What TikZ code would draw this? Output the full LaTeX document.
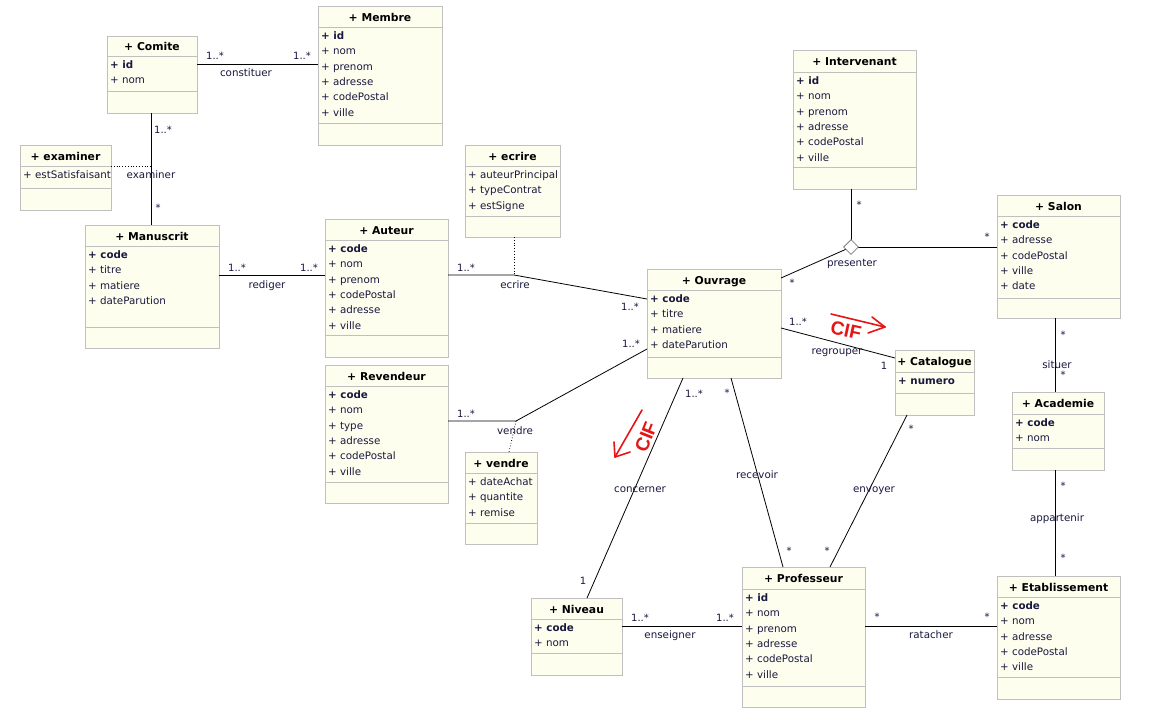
\documentclass[tikz,border=0pt]{standalone}
\usepackage{fontspec}
\setmainfont{DejaVu Sans}
\newfontfamily\ciffont{Liberation Sans}
\usetikzlibrary{shapes.geometric}

\definecolor{boxfill}{RGB}{254,254,238}
\definecolor{boxedge}{RGB}{192,192,192}
\definecolor{inktext}{RGB}{24,24,64}
\definecolor{cifred}{RGB}{232,20,20}

\newif\ifkeyfirst
\keyfirsttrue

\tikzset{
  classbox/.style={draw=boxedge, fill=boxfill, line width=0.9pt, anchor=north west,
    inner sep=0pt, outer sep=0pt},
  sepline/.style={draw=boxedge, line width=0.9pt},
  titletext/.style={font=\fontsize{10.8}{12}\selectfont\bfseries, text=black, inner sep=0pt,
    anchor=base},
  attrtext/.style={font=\fontsize{10.3}{12}\selectfont, text=inktext, anchor=base west, inner sep=0pt},
  assoc/.style={draw=black, line width=0.8pt},
  linkdots/.style={draw=black, line width=0.8pt, dotted},
  mult/.style={font=\fontsize{10}{12}\selectfont, text=inktext, inner sep=0pt,
    text height=8pt, text depth=0.5pt},
  multdot/.style={font=\fontsize{10}{12}\selectfont, text=inktext, inner sep=0pt},
  assoclabel/.style={font=\fontsize{10.3}{12}\selectfont, text=inktext, inner sep=0pt,
    text height=8pt, text depth=0.5pt},
  nary/.style={diamond, draw=gray, fill=white, line width=0.8pt, minimum width=15pt,
    minimum height=15pt, inner sep=0pt},
  cifmark/.style={draw=cifred, line width=1.6pt, line cap=round, line join=round},
  ciftext/.style={font=\ciffont\bfseries\fontsize{19}{20}\selectfont, text=cifred, inner sep=0pt},
}

% #1 name, #2 left, #3 top, #4 width, #5 title height, #6 attribute block bottom,
% #7 total height, #8 class name, #9 attributes
\newcommand{\umlclass}[9]{%
  \node[classbox, minimum width=#4pt, minimum height=#7pt] (#1) at (#2,#3) {};
  \draw[sepline] ([yshift=-#5pt]#1.north west) -- ([yshift=-#5pt]#1.north east);
  \draw[sepline] ([yshift=-#6pt]#1.north west) -- ([yshift=-#6pt]#1.north east);
  \node[titletext] (#1-t) at ([yshift={-(0.5*#5+4.8)}]#1.north) {+ #8};
  \foreach \a [count=\i] in {#9} {
    \node[attrtext] (#1-a\i) at ([xshift=3pt, yshift={-(#5+12.6+(\i-1)*15.3)}]#1.north west)
      {\ifkeyfirst\ifnum\i=1 \bfseries\fi\fi + \a};
  }%
}

\begin{document}
\begin{tikzpicture}[x=1pt, y=-1pt]
\useasboundingbox[fill=white] (0,0) rectangle (1155,723);

% ---------- classes ----------
\umlclass{comite}{107}{36}{90}{20}{55}{77}{Comite}{id,nom}
\umlclass{membre}{318}{6}{124}{21}{117}{139}{Membre}{id,nom,prenom,adresse,codePostal,ville}
\umlclass{manuscrit}{85}{225}{134}{21}{102}{123}{Manuscrit}{code,titre,matiere,dateParution}
\umlclass{auteur}{325}{219}{123}{21}{116}{138}{Auteur}{code,nom,prenom,codePostal,adresse,ville}
\umlclass{revendeur}{325}{365}{123}{21}{117}{138}{Revendeur}{code,nom,type,adresse,codePostal,ville}
\umlclass{ouvrage}{647}{269}{134}{21}{88}{109}{Ouvrage}{code,titre,matiere,dateParution}
\umlclass{niveau}{531}{598}{91}{21}{55}{77}{Niveau}{code,nom}
\umlclass{professeur}{742}{567}{123}{22}{119}{140}{Professeur}{id,nom,prenom,adresse,codePostal,ville}
\umlclass{intervenant}{793}{50}{123}{22}{117}{139}{Intervenant}{id,nom,prenom,adresse,codePostal,ville}
\umlclass{salon}{997}{195}{123}{21}{103}{123}{Salon}{code,adresse,codePostal,ville,date}
\umlclass{catalogue}{895}{350}{79}{22}{43}{65}{Catalogue}{numero}
\umlclass{academie}{1012}{392}{92}{22}{56}{78}{Academie}{code,nom}
\umlclass{etablissement}{997}{576}{123}{21}{101}{123}{Etablissement}{code,nom,adresse,codePostal,ville}

% association classes (no identifier)
\begin{scope}
\keyfirstfalse
\umlclass{examinerbox}{20}{145}{91}{21}{43}{65}{examiner}{estSatisfaisant}
\umlclass{ecrirebox}{465}{145}{95}{21}{71}{92}{ecrire}{auteurPrincipal,typeContrat,estSigne}
\umlclass{vendrebox}{465}{452}{72}{21}{71}{92}{vendre}{dateAchat,quantite,remise}
\end{scope}

% ---------- associations ----------
\draw[assoc] (comite.east |- 0,64) -- (membre.west |- 0,64);
\draw[assoc] (comite.south -| 151,0) -- (manuscrit.north -| 151,0);
\coordinate (examinerJ) at (151,166);
\draw[linkdots] (examinerbox.east |- examinerJ) -- (examinerJ);

\draw[assoc] (manuscrit.east |- 0,275) -- (auteur.west |- 0,275);

\coordinate (ecrireJ) at (514,275);
\draw[assoc] (auteur.east |- ecrireJ) -- (ecrireJ) -- (ouvrage.west |- 0,299);
\draw[linkdots] (ecrirebox.south -| ecrireJ) -- (ecrireJ);

\coordinate (vendreJ) at (516,421);
\draw[assoc] (revendeur.east |- vendreJ) -- (vendreJ) -- (ouvrage.west |- 0,349);
\draw[linkdots] (vendreJ) -- (vendrebox.north -| 509,0);

\draw[assoc] (ouvrage.south -| 683,0) -- (niveau.north -| 587,0);
\draw[assoc] (ouvrage.south -| 731,0) -- (professeur.north -| 783,0);
\draw[assoc] (ouvrage.east |- 0,328) -- (catalogue.west |- 0,358);
\draw[assoc] (catalogue.south -| 907,0) -- (professeur.north -| 830,0);
\draw[assoc] (niveau.east |- 0,626) -- (professeur.west |- 0,626);
\draw[assoc] (professeur.east |- 0,626) -- (etablissement.west |- 0,626);
\draw[assoc] (salon.south -| 1055,0) -- (academie.north -| 1055,0);
\draw[assoc] (academie.south -| 1055,0) -- (etablissement.north -| 1055,0);

% ternary association presenter
\coordinate (presenterC) at (851,247);
\draw[assoc] (intervenant.south -| presenterC) -- (presenterC);
\draw[assoc] (presenterC) -- (salon.west |- presenterC);
\draw[assoc] (presenterC) -- (ouvrage.east |- 0,278);
\node[nary] (presenter) at (presenterC) {};

% ---------- multiplicities and names ----------
\node[mult] (m1) at (215,56) {1..*};
\node[mult] (m2) at (302,56) {1..*};
\node[assoclabel] (l-constituer) at (246,73) {constituer};

\node[mult] (m3) at (163,130) {1..*};
\node[multdot] (m4) at (158,208) {*};
\node[assoclabel] (l-examiner) at (151,175) {examiner};

\node[mult] (m5) at (237,268) {1..*};
\node[mult] (m6) at (309,268) {1..*};
\node[assoclabel] (l-rediger) at (267,285) {rediger};

\node[mult] (m7) at (466,268) {1..*};
\node[mult] (m8) at (630,307) {1..*};
\node[assoclabel] (l-ecrire) at (515,285) {ecrire};

\node[mult] (m9) at (466,414) {1..*};
\node[mult] (m10) at (631,344) {1..*};
\node[assoclabel] (l-vendre) at (515,431) {vendre};

\node[mult] (m11) at (694,394) {1..*};
\node[mult] (m12) at (583,581) {1};
\node[assoclabel] (l-concerner) at (640,489) {concerner};

\node[multdot] (m13) at (727,393) {*};
\node[multdot] (m14) at (789,551) {*};
\node[assoclabel] (l-recevoir) at (757,475) {recevoir};

\node[mult] (m15) at (798,322) {1..*};
\node[mult] (m16) at (884,366) {1};
\node[assoclabel] (l-regrouper) at (837,351) {regrouper};

\node[multdot] (m17) at (911,429) {*};
\node[multdot] (m18) at (827,551) {*};
\node[assoclabel] (l-envoyer) at (874,489) {envoyer};

\node[mult] (m19) at (640,618) {1..*};
\node[mult] (m20) at (725,618) {1..*};
\node[assoclabel] (l-enseigner) at (670,635) {enseigner};

\node[multdot] (m21) at (877,617) {*};
\node[multdot] (m22) at (987,617) {*};
\node[assoclabel] (l-ratacher) at (931,635) {ratacher};

\node[multdot] (m23) at (1063,335) {*};
\node[multdot] (m24) at (1063,375) {*};
\node[assoclabel] (l-situer) at (1057,365) {situer};

\node[multdot] (m25) at (1063,486) {*};
\node[multdot] (m26) at (1063,558) {*};
\node[assoclabel] (l-appartenir) at (1057,518) {appartenir};

\node[multdot] (m27) at (859,205) {*};
\node[multdot] (m28) at (987,237) {*};
\node[multdot] (m29) at (792,283) {*};
\node[assoclabel] (l-presenter) at (852,263) {presenter};

% ---------- CIF marks ----------
\node[ciftext, rotate=-12] (cif1) at (846,330) {CIF};
\draw[cifmark] (831,314) -- (885,327);
\draw[cifmark] (872,317) -- (885,327) -- (868,333);

\node[ciftext, rotate=68] (cif2) at (646,437) {CIF};
\draw[cifmark] (642,410) -- (615,457);
\draw[cifmark] (614,442) -- (615,457) -- (630,452);
\end{tikzpicture}
\end{document}
